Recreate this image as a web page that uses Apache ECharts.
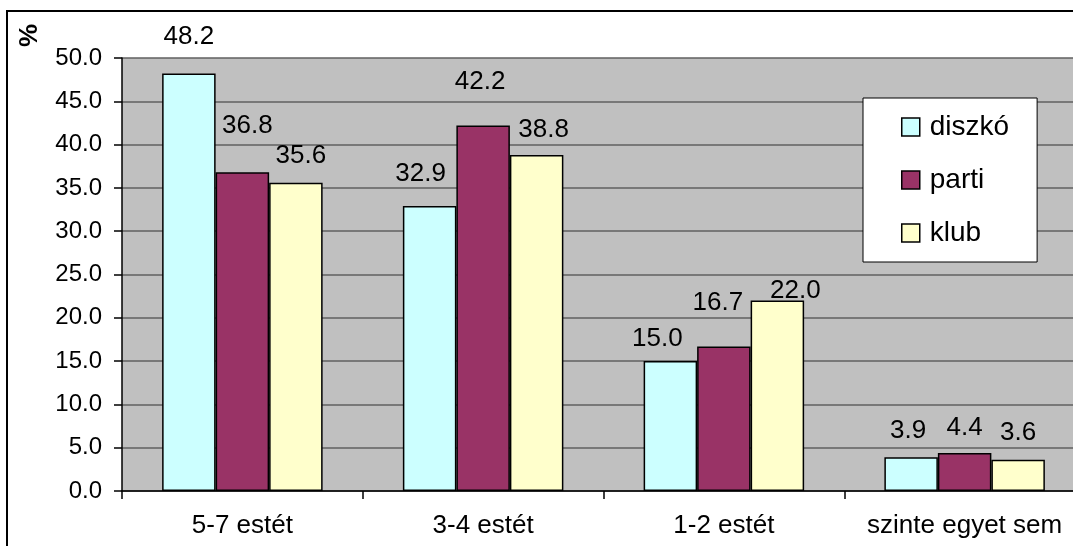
<!DOCTYPE html>
<html><head><meta charset="utf-8">
<script src="https://cdn.jsdelivr.net/npm/echarts@6/dist/echarts.min.js"></script>
<style>html,body{margin:0;padding:0;background:#fff;overflow:hidden;width:1073px;height:546px}#c{width:1100px;height:546px}</style>
</head><body><div id="c"></div>
<script>
// ---- data ----
const categories = ['5-7 estét', '3-4 estét', '1-2 estét', 'szinte egyet sem'];
const seriesNames = ['diszkó', 'parti', 'klub'];
const diszko = [48.2, 32.9, 15.0, 3.9];
const parti = [36.8, 42.2, 16.7, 4.4];
const klub = [35.6, 38.8, 22.0, 3.6];
const yTicks = [0, 5, 10, 15, 20, 25, 30, 35, 40, 45, 50];

// ---- layout (label nudges as placed in the original) ----
const labelNudge = [
  [[0, -24], [-9, -19], [-13, -9], [-3, -13]],
  [[5, -33], [-3, -31], [-6, -31], [0, -12]],
  [[5, -14], [7, -12], [18, 3], [0, -14]]
];
const colors = ['#CCFFFF', '#993366', '#FFFFCC'];
const FONT = '"Liberation Sans", Arial, sans-serif';

const chart = echarts.init(document.getElementById('c'), null, {renderer: 'canvas'});
const values = [diszko, parti, klub];
const series = values.map((vals, si) => ({
  name: seriesNames[si],
  type: 'bar',
  barWidth: 53.5,
  barGap: '0%',
  itemStyle: {color: colors[si], borderColor: '#000', borderWidth: 1.5},
  data: vals.map((v, i) => ({
    value: v,
    label: {offset: labelNudge[si][i]}
  })),
  label: {
    show: true, position: 'top', distance: 0,
    fontFamily: FONT, fontSize: 26, color: '#000',
    formatter: p => p.value.toFixed(1)
  }
}));

chart.setOption({
  animation: false,
  backgroundColor: '#fff',
  grid: {left: 122, top: 58, width: 963, height: 433, show: true, backgroundColor: '#C0C0C0', borderWidth: 0},
  legend: {
    orient: 'vertical', left: 863, top: 98,
    backgroundColor: '#fff', borderColor: '#000', borderWidth: 1,
    padding: [15, 28, 15, 38],
    itemWidth: 18, itemHeight: 18, itemGap: 25,
    icon: 'rect',
    itemStyle: {borderColor: '#000', borderWidth: 1.5},
    textStyle: {fontFamily: FONT, fontSize: 28, color: '#000', lineHeight: 26, padding: [0, 0, 0, 5]},
    data: seriesNames
  },
  xAxis: {
    type: 'category', data: categories, boundaryGap: true,
    axisLine: {lineStyle: {color: '#000', width: 1.5}},
    axisTick: {show: true, length: 8, lineStyle: {color: '#000', width: 1.5}},
    axisLabel: {fontFamily: FONT, fontSize: 26, color: '#000', margin: 22, interval: 0}
  },
  yAxis: {
    type: 'value', min: yTicks[0], max: yTicks[yTicks.length - 1], interval: 5,
    axisLine: {show: true, lineStyle: {color: '#000', width: 1.5}},
    axisTick: {show: true, length: 8, lineStyle: {color: '#000', width: 1.5}},
    axisLabel: {fontFamily: FONT, fontSize: 24, color: '#000', margin: 20, formatter: v => v.toFixed(1)},
    splitLine: {show: true, lineStyle: {color: '#606060', width: 1.5}}
  },
  graphic: [
    {type: 'rect', shape: {x: 7, y: 11, width: 1200, height: 700}, style: {fill: 'none', stroke: '#000', lineWidth: 2}, z: 100},
    {type: 'text', x: 17, y: 47, rotation: Math.PI / 2,
     style: {text: '%', fontFamily: FONT, fontSize: 26, fontWeight: 'bold', fill: '#000', textVerticalAlign: 'top'}}
  ],
  series: series
});
</script></body></html>
